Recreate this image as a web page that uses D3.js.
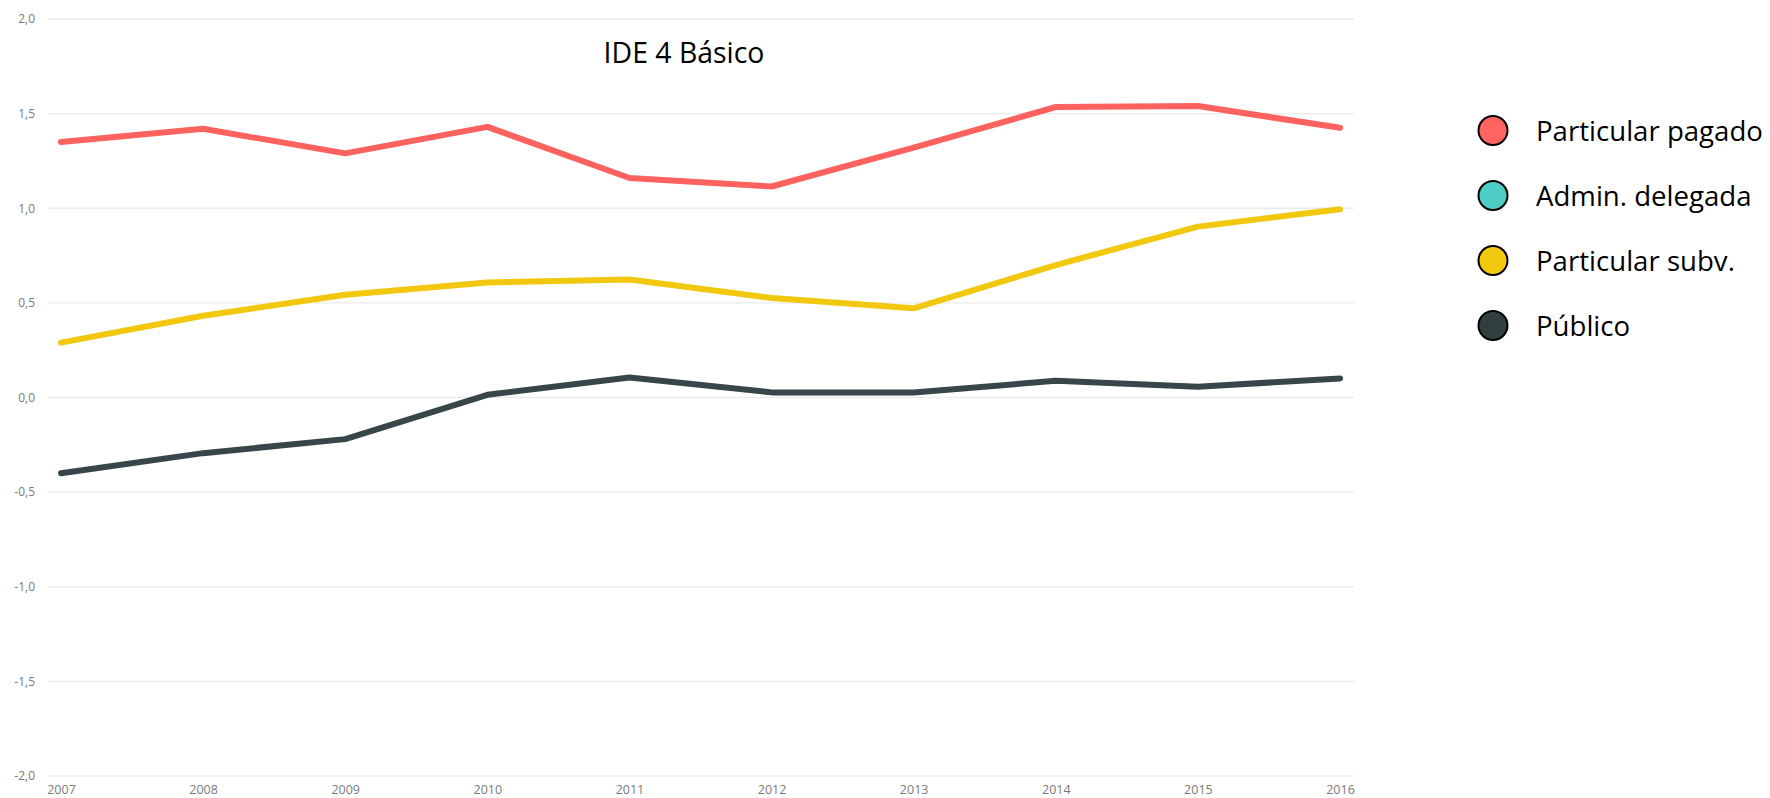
<!DOCTYPE html>
<html>
<head>
<meta charset="utf-8">
<script src="https://cdn.jsdelivr.net/npm/d3@7"></script>
<style>
  html, body { margin: 0; padding: 0; background: #ffffff; }
  svg { display: block; }
</style>
</head>
<body>
<svg id="chart" width="1770" height="798"></svg>
<script>
// Years on the x axis
const years = [2007, 2008, 2009, 2010, 2011, 2012, 2013, 2014, 2015, 2016];

// IDE 4 Básico by type of school
const particularPagado = [1.35, 1.42, 1.29, 1.43, 1.16, 1.115, 1.32, 1.535, 1.54, 1.425];
const adminDelegada = [];
const particularSubv = [0.29, 0.432, 0.543, 0.608, 0.623, 0.526, 0.471, 0.70, 0.903, 0.995];
const publico = [-0.40, -0.294, -0.22, 0.014, 0.106, 0.027, 0.027, 0.088, 0.057, 0.101];

// Y axis ticks
const yTicks = [2.0, 1.5, 1.0, 0.5, 0.0, -0.5, -1.0, -1.5, -2.0];

// Legend entries and series
const seriesNames = ["Particular pagado", "Admin. delegada", "Particular subv.", "Público"];
const seriesValues = [particularPagado, adminDelegada, particularSubv, publico];
const lineColors = ["#FD625E", "#01B8AA", "#F2C80F", "#374649"];
const legendColors = ["#FF6461", "#4ECDC4", "#F2C80F", "#323F41"];

const svg = d3.select("#chart");

const x = d3.scalePoint().domain(years).range([61, 1340]);
const y = d3.scaleLinear().domain([-2, 2]).range([776, 19]);

const fmt = v => d3.format(".1f")(v).replace(".", ",").replace("−", "-");

// Horizontal gridlines
svg.append("g")
  .selectAll("line")
  .data(yTicks)
  .join("line")
  .attr("x1", 48)
  .attr("x2", 1354)
  .attr("y1", d => y(d))
  .attr("y2", d => y(d))
  .attr("stroke", "#ebebeb")
  .attr("stroke-width", 1.3);

// Y axis tick labels
const yAxis = d3.axisLeft(y).tickValues(yTicks).tickFormat(fmt).tickSize(0).tickPadding(0);
svg.append("g")
  .attr("transform", "translate(35,0)")
  .call(yAxis)
  .call(g => g.select(".domain").remove())
  .call(g => g.selectAll("text")
    .attr("fill", "#7a7a7a")
    .attr("font-family", "'Open Sans', sans-serif")
    .attr("font-size", 12));

// X axis year labels
const xAxis = d3.axisBottom(x).tickFormat(d3.format("d")).tickSize(0).tickPadding(0);
svg.append("g")
  .attr("transform", "translate(0,785)")
  .call(xAxis)
  .call(g => g.select(".domain").remove())
  .call(g => g.selectAll("text")
    .attr("fill", "#7a7a7a")
    .attr("font-family", "'Open Sans', sans-serif")
    .attr("font-size", 12.5));

// Series lines
const line = d3.line()
  .x((d, i) => x(years[i]))
  .y(d => y(d));

svg.append("g")
  .selectAll("path")
  .data(seriesValues.map((v, i) => ({ values: v, color: lineColors[i] })).filter(s => s.values.length))
  .join("path")
  .attr("d", s => line(s.values))
  .attr("fill", "none")
  .attr("stroke", s => s.color)
  .attr("stroke-width", 6)
  .attr("stroke-linecap", "round")
  .attr("stroke-linejoin", "round");

// Title
svg.append("text")
  .attr("x", 684)
  .attr("y", 63)
  .attr("text-anchor", "middle")
  .attr("font-family", "'Open Sans', sans-serif")
  .attr("font-size", 28.4)
  .attr("fill", "#000")
  .text("IDE 4 Básico");

// Legend
const legendY = d3.scalePoint().domain(seriesNames).range([130.5, 325.5]);
const legend = svg.append("g")
  .selectAll("g")
  .data(seriesNames)
  .join("g")
  .attr("transform", d => `translate(0,${legendY(d)})`);

legend.append("circle")
  .attr("cx", 1493)
  .attr("cy", 0)
  .attr("r", 14.5)
  .attr("fill", (d, i) => legendColors[i])
  .attr("stroke", "#000")
  .attr("stroke-width", 2);

legend.append("text")
  .attr("x", 1536)
  .attr("y", 10)
  .attr("font-family", "'Open Sans', sans-serif")
  .attr("font-size", 27.6)
  .attr("fill", "#000")
  .text(d => d);
</script>
</body>
</html>
